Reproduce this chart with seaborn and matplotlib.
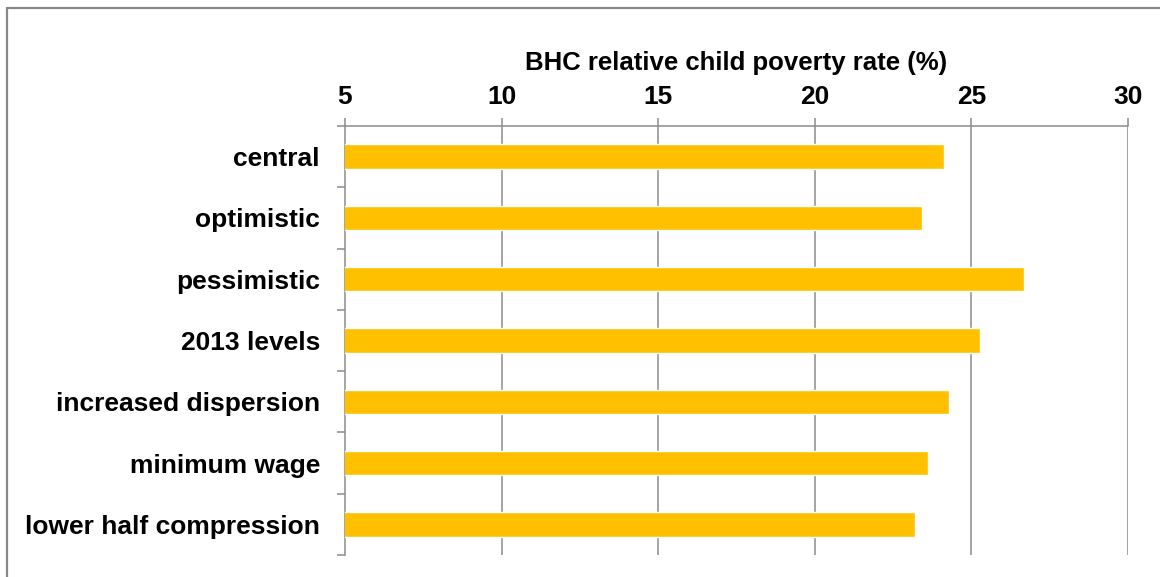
import matplotlib
matplotlib.use("Agg")
import matplotlib.pyplot as plt
import seaborn as sns
import pandas as pd
from matplotlib.lines import Line2D

categories = ["central", "optimistic", "pessimistic", "2013 levels",
              "increased dispersion", "minimum wage", "lower half compression"]
values = [24.12, 23.42, 26.67, 25.27, 24.27, 23.62, 23.21]
x_ticks = [5, 10, 15, 20, 25, 30]
x_title = "BHC relative child poverty rate (%)"

df = pd.DataFrame({"scenario": categories, "rate": values})

sns.set_theme(style="white")
plt.rcParams["font.family"] = ["Liberation Sans", "DejaVu Sans"]
plt.rcParams["font.weight"] = "bold"

fig = plt.figure(figsize=(11.6, 5.77), dpi=100)
W, H = 1160, 577
ax = fig.add_axes([345 / W, 1 - 555 / H, (1128 - 345) / W, (555 - 126) / H])

sns.barplot(data=df, x="rate", y="scenario", orient="h", color="#FFC000",
            saturation=1, width=0.4, ax=ax, zorder=3)

ax.set_xlim(5, 30)
ax.set_ylim(len(categories) - 0.5, -0.5)
ax.set_xticks(x_ticks)
ax.xaxis.tick_top()
ax.xaxis.set_label_position("top")
ax.set_xlabel(x_title, fontsize=18.5, fontweight="bold", labelpad=10.5, color="black")
ax.set_ylabel("")

grid_col = "#8c8c8c"
for xv in x_ticks[1:]:
    ax.axvline(xv, color=grid_col, lw=1.1, zorder=1)

for s in ["bottom", "right"]:
    ax.spines[s].set_visible(False)
for s in ["top", "left"]:
    ax.spines[s].set_color(grid_col)
    ax.spines[s].set_linewidth(1.1)

ax.tick_params(axis="x", which="major", direction="out", length=6, width=1.1,
               color=grid_col, pad=6.5, labelsize=19, labelcolor="black", top=True, bottom=False)
for lab in ax.get_xticklabels():
    lab.set_fontweight("bold")

# y: labels at centres, tick marks at category boundaries
ax.tick_params(axis="y", which="major", length=0, pad=18, labelsize=19, labelcolor="black")
for lab in ax.get_yticklabels():
    lab.set_fontweight("bold")
ax.set_yticks([i - 0.5 for i in range(len(categories) + 1)], minor=True)
ax.tick_params(axis="y", which="minor", direction="out", length=6, width=1.1,
               color=grid_col, left=True)

# outer frame (chart area border)
fig.add_artist(Line2D([7 / W, 7 / W], [0, 1 - 8 / H], transform=fig.transFigure,
                      color="#888888", lw=1.6))
fig.add_artist(Line2D([7 / W, 1], [1 - 8 / H, 1 - 8 / H], transform=fig.transFigure,
                      color="#888888", lw=1.6))

fig.savefig("out.png", dpi=100, facecolor="white")
